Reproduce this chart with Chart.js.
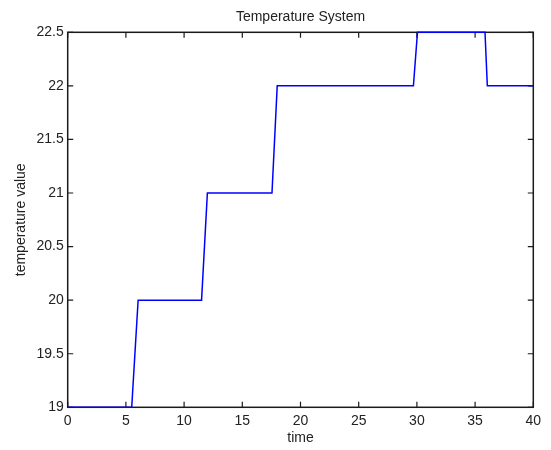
<!DOCTYPE html>
<html>
<head>
<meta charset="utf-8">
<script src="https://cdn.jsdelivr.net/npm/chart.js@4/dist/chart.umd.min.js"></script>
<style>
  html, body { margin: 0; padding: 0; background: #fff; }
  #wrap { width: 551px; height: 450px; }
</style>
</head>
<body>
<div id="wrap"><canvas id="c" width="551" height="450"></canvas></div>
<script>
// Data
const timeValues = [0, 5.5, 6.05, 11.5, 12.0, 17.55, 18.0, 29.7, 30.05, 35.85, 36.05, 40];
const tempValues = [19, 19, 20, 20, 21, 21, 22, 22, 22.5, 22.5, 22, 22];
const chartTitle = 'Temperature System';
const xLabel = 'time';
const yLabel = 'temperature value';

const points = timeValues.map((t, i) => ({ x: t, y: tempValues[i] }));
const FONT = "'Liberation Sans', Arial, Helvetica, sans-serif";

const frame = {
  id: 'frame',
  beforeDatasetsDraw(chart) {
    const { ctx, chartArea: a, scales } = chart;
    const tl = 5.5;
    ctx.save();
    ctx.strokeStyle = '#1a1a1a';
    ctx.lineWidth = 1.5;
    ctx.strokeRect(a.left, a.top, a.right - a.left, a.bottom - a.top);
    ctx.lineWidth = 1.2;
    ctx.beginPath();
    scales.x.ticks.forEach(t => {
      const px = scales.x.getPixelForValue(t.value);
      ctx.moveTo(px, a.bottom); ctx.lineTo(px, a.bottom - tl);
      ctx.moveTo(px, a.top); ctx.lineTo(px, a.top + tl);
    });
    scales.y.ticks.forEach(t => {
      const py = scales.y.getPixelForValue(t.value);
      ctx.moveTo(a.left, py); ctx.lineTo(a.left + tl, py);
      ctx.moveTo(a.right, py); ctx.lineTo(a.right - tl, py);
    });
    ctx.stroke();
    ctx.restore();
  }
};

new Chart(document.getElementById('c'), {
  type: 'scatter',
  data: {
    datasets: [{
      data: points,
      showLine: true,
      borderColor: '#0000ff',
      backgroundColor: '#0000ff',
      borderWidth: 1.5,
      pointRadius: 0,
      tension: 0,
      fill: false,
      clip: 4
    }]
  },
  options: {
    responsive: false,
    animation: false,
    devicePixelRatio: 1,
    layout: { padding: { left: 0, right: 17.7, top: 0, bottom: 0 } },
    plugins: {
      legend: { display: false },
      tooltip: { enabled: false },
      title: {
        display: true,
        text: chartTitle,
        fullSize: false,
        color: '#222',
        font: { family: FONT, size: 14, weight: 'normal' },
        padding: { top: 8.6, bottom: 6.9 }
      }
    },
    scales: {
      x: {
        type: 'linear',
        min: 0, max: 40,
        grid: { display: false, drawTicks: false },
        border: { display: false },
        ticks: { stepSize: 5, padding: 5, color: '#222', font: { family: FONT, size: 14 }, maxRotation: 0,
                 callback: v => String(Number(v)) },
        title: { display: true, text: xLabel, color: '#222', font: { family: FONT, size: 14 }, padding: { top: 0, bottom: 3.6 } },
        afterFit(scale) { scale.height = 42.7; }
      },
      y: {
        type: 'linear',
        min: 19, max: 22.5,
        grid: { display: false, drawTicks: false },
        border: { display: false },
        ticks: { stepSize: 0.5, padding: 4, color: '#222', font: { family: FONT, size: 14 },
                 callback: v => String(Number(v)) },
        title: { display: true, text: yLabel, color: '#222', font: { family: FONT, size: 14 }, padding: { top: 13, bottom: 0 } },
        afterFit(scale) { scale.width = 67.7; }
      }
    }
  },
  plugins: [frame]
});
</script>
</body>
</html>
